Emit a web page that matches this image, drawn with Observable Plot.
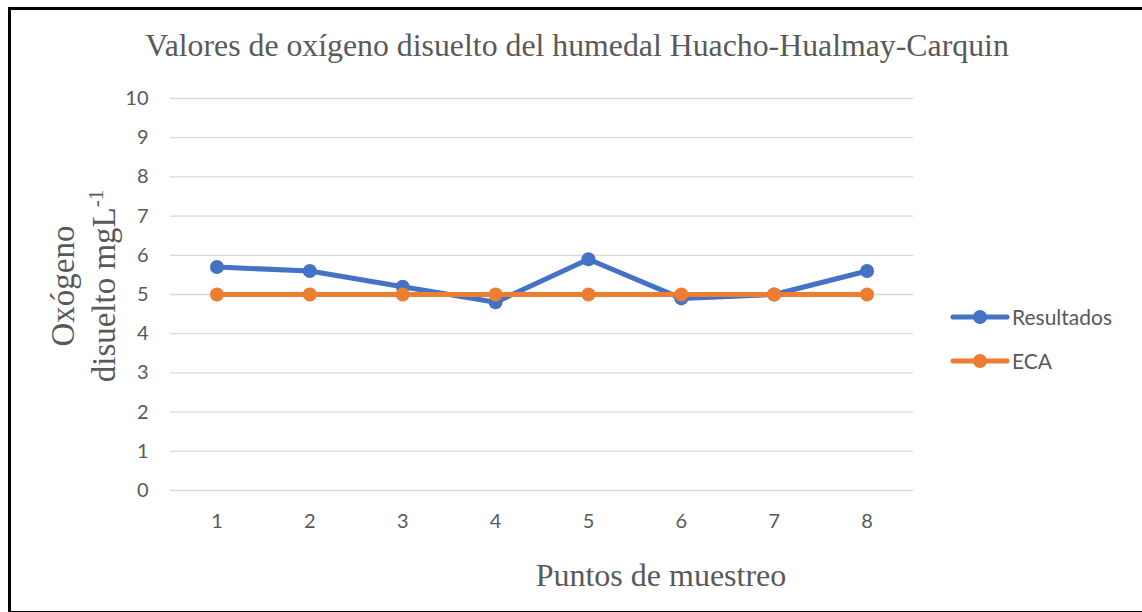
<!DOCTYPE html>
<html>
<head>
<meta charset="utf-8">
<script src="https://cdn.jsdelivr.net/npm/d3@7"></script>
<script src="https://cdn.jsdelivr.net/npm/@observablehq/plot@0.6"></script>
<style>
  html, body { margin: 0; padding: 0; background: #fff; }
  #wrap { position: relative; width: 1142px; height: 612px; overflow: hidden; }
  #frame { position: absolute; left: 8px; top: 7px; width: 1140px; height: 601px; border: 3px solid #000; box-sizing: content-box; pointer-events: none; }
  .serif { font-family: "Liberation Serif", "DejaVu Serif", serif; color: #595959; position: absolute; white-space: nowrap; }
  #title { left: 77px; width: 1000px; top: 28px; text-align: center; font-size: 31.8px; }
  #xtitle { left: 511px; width: 300px; text-align: center; top: 557px; font-size: 32px; }
  #ytitle { position: absolute; left: 84px; top: 286px; transform: translate(-50%, -50%) rotate(-90deg); text-align: center; font-size: 33px; line-height: 33px; }
  .leg { position: absolute; left: 950px; font-family: Lato, "Open Sans", sans-serif; font-size: 21px; color: #595959; display: flex; align-items: center; }
</style>
</head>
<body>
<div id="wrap">
  <div id="chart"></div>
  <div id="frame"></div>
  <div id="title" class="serif">Valores de oxígeno disuelto del humedal Huacho-Hualmay-Carquin</div>
  <div id="xtitle" class="serif">Puntos de muestreo</div>
  <div id="ytitle" class="serif">Oxógeno<br>disuelto mgL<sup style="font-size:21px">-1</sup></div>
  <div id="legend"></div>
</div>
<script>
const puntos = [1, 2, 3, 4, 5, 6, 7, 8];
const resultados = [5.7, 5.6, 5.2, 4.8, 5.9, 4.9, 5.0, 5.6];
const eca = [5, 5, 5, 5, 5, 5, 5, 5];
const yTicks = [0, 1, 2, 3, 4, 5, 6, 7, 8, 9, 10];
const seriesNames = ["Resultados", "ECA"];
const seriesColors = ["#4472C4", "#ED7D31"];

const data = [];
puntos.forEach((p, i) => data.push({punto: p, valor: resultados[i], serie: seriesNames[0]}));
puntos.forEach((p, i) => data.push({punto: p, valor: eca[i], serie: seriesNames[1]}));

const chart = Plot.plot({
  width: 1142,
  height: 612,
  marginLeft: 170,
  marginRight: 229,
  marginTop: 98,
  marginBottom: 122,
  style: { fontFamily: "Lato, 'Open Sans', sans-serif", fontSize: "20px", color: "#595959", background: "transparent" },
  x: { type: "point", domain: puntos, padding: 0.5, round: false, label: null },
  y: { domain: [0, 10], ticks: yTicks, label: null },
  color: { domain: seriesNames, range: seriesColors },
  marks: [
    Plot.gridY(yTicks, { stroke: "#d9d9d9", strokeOpacity: 1, strokeWidth: 1.3 }),
    Plot.axisY(yTicks, { tickSize: 0, tickPadding: 22, fontSize: 20, fill: "#595959" }),
    Plot.axisX(puntos, { tickSize: 0, tickPadding: 23, fontSize: 20, fill: "#595959" }),
    Plot.line(data, { x: "punto", y: "valor", stroke: "serie", strokeWidth: 5, strokeLinejoin: "round", strokeLinecap: "round" }),
    Plot.dot(data, { x: "punto", y: "valor", fill: "serie", r: 7 })
  ]
});
document.getElementById("chart").appendChild(chart);

const legend = document.getElementById("legend");
seriesNames.forEach((name, i) => {
  const item = document.createElement("div");
  item.className = "leg";
  item.style.top = (318 + i * 44 - 14) + "px";
  item.innerHTML = `<svg width="60" height="16" style="margin-right:2px"><line x1="3" y1="8" x2="57" y2="8" stroke="${seriesColors[i]}" stroke-width="5" stroke-linecap="round"/><circle cx="30" cy="8" r="7" fill="${seriesColors[i]}"/></svg><span>${name}</span>`;
  legend.appendChild(item);
});
</script>
</body>
</html>
